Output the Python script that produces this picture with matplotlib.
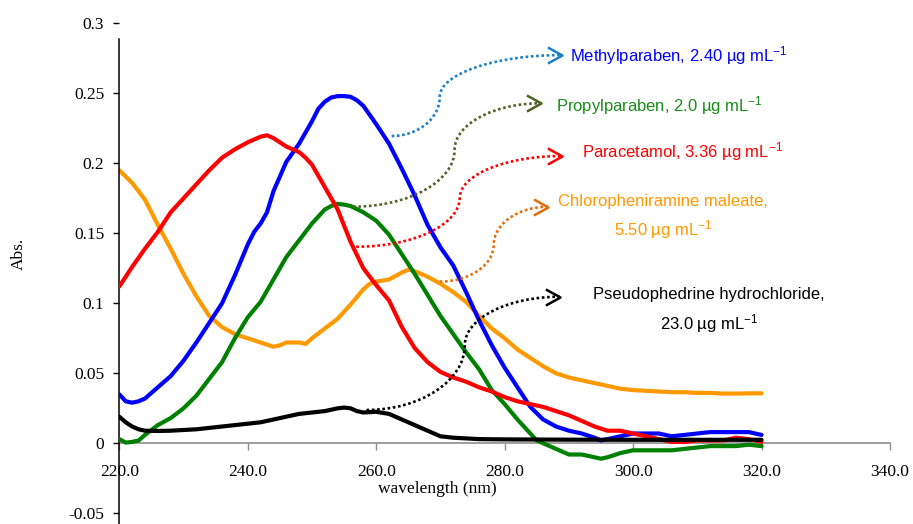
import numpy as np
import matplotlib
matplotlib.use('Agg')
import matplotlib.pyplot as plt
from matplotlib.path import Path
from matplotlib.patches import PathPatch
from matplotlib.ticker import FixedLocator, FixedFormatter

# ---------------- data ----------------
wl_methyl = [220, 221, 222, 223, 224, 225, 226, 228, 230, 232, 234, 236, 238, 240, 241, 242, 243, 244,
             246, 248, 250, 251, 252, 253, 254, 255, 256, 257, 258, 260, 262, 264, 266, 268, 270, 272,
             274, 275, 276, 278, 280, 282, 284, 286, 288, 290, 292, 294, 295, 296, 298, 300, 302, 304,
             306, 308, 310, 312, 314, 316, 318, 320]
abs_methyl = [0.035, 0.030, 0.029, 0.030, 0.032, 0.036, 0.040, 0.048, 0.059, 0.072, 0.086, 0.100, 0.120,
              0.142, 0.151, 0.157, 0.165, 0.180, 0.201, 0.214, 0.230, 0.239, 0.244, 0.247, 0.248, 0.248,
              0.2475, 0.245, 0.241, 0.228, 0.214, 0.196, 0.177, 0.156, 0.140, 0.127, 0.108, 0.098, 0.088,
              0.070, 0.054, 0.040, 0.026, 0.017, 0.012, 0.009, 0.007, 0.004, 0.002, 0.003, 0.005, 0.007,
              0.007, 0.007, 0.005, 0.006, 0.007, 0.008, 0.008, 0.008, 0.008, 0.006]

wl_para = [220, 221, 222, 224, 226, 228, 230, 232, 234, 236, 238, 240, 242, 243, 244, 245, 246, 248, 249,
           250, 252, 254, 256, 258, 260, 262, 264, 266, 268, 270, 272, 274, 276, 278, 280, 282, 284, 286,
           288, 290, 292, 294, 296, 298, 300, 302, 304, 306, 308, 310, 312, 314, 316, 318, 320]
abs_para = [0.112, 0.119, 0.126, 0.139, 0.151, 0.165, 0.175, 0.185, 0.195, 0.204, 0.210, 0.215, 0.219,
            0.220, 0.218, 0.215, 0.212, 0.208, 0.204, 0.199, 0.183, 0.167, 0.144, 0.125, 0.113, 0.102,
            0.083, 0.068, 0.058, 0.051, 0.047, 0.044, 0.040, 0.037, 0.033, 0.030, 0.028, 0.026, 0.023,
            0.020, 0.016, 0.012, 0.009, 0.009, 0.007, 0.005, 0.003, 0.001, 0.001, 0.002, 0.002, 0.002,
            0.004, 0.003, 0.001]

wl_propyl = [220, 221, 222, 223, 224, 225, 226, 228, 230, 232, 234, 236, 238, 240, 242, 244, 246, 248,
             250, 252, 253, 254, 255, 256, 258, 259, 260, 262, 264, 266, 268, 270, 272, 274, 276, 278,
             280, 282, 284, 285, 286, 288, 290, 292, 294, 295, 296, 298, 300, 302, 304, 306, 308, 310,
             312, 314, 316, 318, 320]
abs_propyl = [0.003, 0.0005, 0.001, 0.002, 0.006, 0.0095, 0.013, 0.018, 0.025, 0.034, 0.046, 0.058, 0.075,
              0.090, 0.101, 0.117, 0.133, 0.145, 0.157, 0.167, 0.1695, 0.171, 0.1705, 0.1695, 0.165,
              0.162, 0.159, 0.149, 0.135, 0.121, 0.106, 0.091, 0.078, 0.065, 0.053, 0.038, 0.028, 0.017,
              0.007, 0.002, 0.000, -0.004, -0.008, -0.008, -0.010, -0.011, -0.010, -0.007, -0.005,
              -0.005, -0.005, -0.005, -0.004, -0.003, -0.002, -0.002, -0.002, -0.001, -0.002]

wl_chlor = [220, 222, 224, 226, 228, 230, 232, 234, 236, 238, 240, 242, 244, 245, 246, 248, 249, 250,
            252, 254, 256, 258, 259, 260, 262, 264, 265, 266, 268, 270, 272, 274, 276, 278, 280, 282,
            284, 286, 288, 290, 292, 294, 296, 298, 300, 302, 304, 306, 308, 310, 312, 314, 316, 318, 320]
abs_chlor = [0.195, 0.186, 0.174, 0.156, 0.139, 0.121, 0.105, 0.091, 0.083, 0.078, 0.075, 0.072, 0.069,
             0.070, 0.072, 0.072, 0.071, 0.075, 0.082, 0.089, 0.099, 0.110, 0.114, 0.1155, 0.117, 0.122,
             0.124, 0.123, 0.119, 0.114, 0.108, 0.101, 0.091, 0.082, 0.075, 0.067, 0.061, 0.055, 0.050,
             0.047, 0.045, 0.043, 0.041, 0.039, 0.038, 0.0375, 0.037, 0.0365, 0.0365, 0.036, 0.036,
             0.0355, 0.0355, 0.0357, 0.0357]

wl_pseudo = [220, 221, 222, 223, 224, 226, 228, 230, 232, 234, 236, 238, 240, 242, 244, 246, 248, 250,
             252, 254, 255, 256, 257, 258, 260, 262, 264, 266, 268, 270, 272, 274, 276, 280, 290, 300,
             310, 320]
abs_pseudo = [0.019, 0.015, 0.012, 0.010, 0.009, 0.0088, 0.009, 0.0095, 0.010, 0.011, 0.012, 0.013,
              0.014, 0.015, 0.017, 0.019, 0.021, 0.022, 0.023, 0.025, 0.0255, 0.025, 0.023, 0.022, 0.0225,
              0.021, 0.017, 0.013, 0.009, 0.005, 0.004, 0.0035, 0.003, 0.0028, 0.0026, 0.0025, 0.0025,
              0.0025]

x_ticks = [220, 240, 260, 280, 300, 320, 340]
x_tick_labels = ['220.0', '240.0', '260.0', '280.0', '300.0', '320.0', '340.0']
y_ticks = [-0.05, 0, 0.05, 0.1, 0.15, 0.2, 0.25, 0.3]
y_tick_labels = ['-0.05', '0', '0.05', '0.1', '0.15', '0.2', '0.25', '0.3']

labels_line1 = ['Methylparaben, 2.40 µg mL$^{-1}$', 'Propylparaben, 2.0 µg mL$^{-1}$',
                'Paracetamol, 3.36 µg mL$^{-1}$', 'Chloropheniramine maleate,',
                'Pseudophedrine hydrochloride,']
labels_line2 = [None, None, None, '5.50 µg mL$^{-1}$', '23.0 µg mL$^{-1}$']

# ---------------- style ----------------
plt.rcParams['font.family'] = ['Liberation Serif', 'DejaVu Serif']
plt.rcParams['axes.unicode_minus'] = False
plt.rcParams['mathtext.fontset'] = 'custom'
plt.rcParams['mathtext.rm'] = 'Liberation Sans'
plt.rcParams['mathtext.it'] = 'Liberation Sans:italic'
plt.rcParams['mathtext.bf'] = 'Liberation Sans:bold'

W, H = 913, 524
fig = plt.figure(figsize=(W / 100, H / 100), dpi=100)
ax = fig.add_axes([119.3 / W, 0, (890 - 119.3) / W, 1])
ax.set_xlim(220, 340)
ax.set_ylim(-0.05764, 0.31664)

line_colors = ['#0000FF', '#FF0000', '#008000', '#FF9900', '#000000']
series = [(wl_methyl, abs_methyl), (wl_para, abs_para), (wl_propyl, abs_propyl),
          (wl_chlor, abs_chlor), (wl_pseudo, abs_pseudo)]
zorders = [3, 4, 3.5, 2.5, 5]
for (xs, ys), c, z in zip(series, line_colors, zorders):
    ax.plot(xs, ys, color=c, lw=3, solid_capstyle='round', solid_joinstyle='round', zorder=z)

# axes styling
for s in ['top', 'right']:
    ax.spines[s].set_visible(False)
ax.spines['left'].set_position(('data', 220))
ax.spines['left'].set_bounds(-0.05764, 0.2888)
ax.spines['left'].set_linewidth(1.1)
ax.spines['left'].set_color('black')
ax.spines['bottom'].set_position(('data', 0))
ax.spines['bottom'].set_color('#8c8c8c')
ax.spines['bottom'].set_linewidth(1.2)
ax.spines['bottom'].set_zorder(1)

ax.xaxis.set_major_locator(FixedLocator(x_ticks))
ax.xaxis.set_major_formatter(FixedFormatter(x_tick_labels))
ax.yaxis.set_major_locator(FixedLocator(y_ticks))
ax.yaxis.set_major_formatter(FixedFormatter(y_tick_labels))
ax.tick_params(axis='x', direction='out', length=5, width=1.0, color='#8c8c8c',
               labelsize=12.5, pad=10)
ax.tick_params(axis='y', direction='out', length=4.3, width=1.0, color='black',
               labelsize=12.5, pad=6.5)
ax.patch.set_visible(False)

ax.text(269.5, -0.0326, 'wavelength (nm)', ha='center', va='center', fontsize=12.5)
fig.text(19 / W, 1 - 254 / H, 'Abs.', rotation=90, ha='center', va='center', fontsize=12.5)

# ---------------- annotation connectors ----------------
arrow_start = [(262.4, 0.2195), (256.4, 0.169), (256.9, 0.1404), (269.9, 0.1155), (258.5, 0.0238)]
arrow_mid = [(269.9, 0.2474), (272.2, 0.2095), (273.0, 0.1752), (278.3, 0.1418), (273.8, 0.0702)]
arrow_tip = [(288.9, 0.2773), (285.7, 0.2429), (288.9, 0.2052), (286.8, 0.169), (288.6, 0.1047)]
arrow_colors = ['#1B7FCC', '#4F6228', '#FF0000', '#E46C0A', '#000000']
text_colors = ['#0000FF', '#1A8C1A', '#FF0000', '#FF9900', '#000000']

k = 0.55
head = Path([(-1, 0.55), (0, 0), (-1, -0.55)], [Path.MOVETO, Path.LINETO, Path.LINETO])
for p0, m, p3, c in zip(arrow_start, arrow_mid, arrow_tip, arrow_colors):
    verts = [p0,
             (p0[0] + k * (m[0] - p0[0]), p0[1]),
             (m[0], m[1] - k * (m[1] - p0[1])),
             m,
             (m[0], m[1] + k * (p3[1] - m[1])),
             (p3[0] - k * (p3[0] - m[0]), p3[1]),
             p3]
    codes = [Path.MOVETO] + [Path.CURVE4] * 6
    patch = PathPatch(Path(verts, codes), fill=False, edgecolor=c, lw=1.9,
                      linestyle=(0, (1.0, 1.0)), capstyle='butt', zorder=6)
    ax.add_patch(patch)
    ax.plot([p3[0]], [p3[1]], marker=head, markersize=21, markerfacecolor='none',
            markeredgecolor=c, markeredgewidth=1.8, linestyle='none', zorder=7)

sans = ['Liberation Sans', 'DejaVu Sans']
# single-line labels (left aligned next to arrow tips)
single_pos = [(290.2, 0.2773), (288.0, 0.2410), (292.0, 0.2083)]
for i, pos in enumerate(single_pos):
    ax.text(pos[0], pos[1], labels_line1[i], color=text_colors[i], family=sans,
            fontsize=12, ha='left', va='center')
# two-line labels (centered)
two_pos1 = [(304.7, 0.1726), (311.8, 0.1064)]
two_pos2 = [(304.7, 0.1524), (311.8, 0.0857)]
for j, (q1, q2) in enumerate(zip(two_pos1, two_pos2)):
    i = 3 + j
    ax.text(q1[0], q1[1], labels_line1[i], color=text_colors[i], family=sans,
            fontsize=12, ha='center', va='center')
    ax.text(q2[0], q2[1], labels_line2[i], color=text_colors[i], family=sans,
            fontsize=12, ha='center', va='center')

fig.savefig('out.png', dpi=100)
